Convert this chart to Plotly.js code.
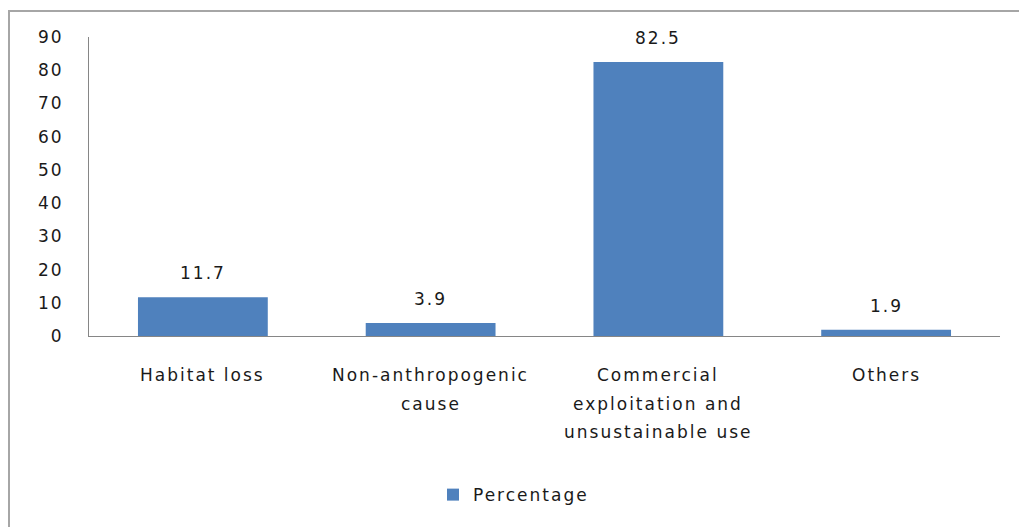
<!DOCTYPE html>
<html>
<head>
<meta charset="utf-8">
<script src="https://cdn.plot.ly/plotly-3.0.1.min.js"></script>
<style>
html,body{margin:0;padding:0;background:#fff;}
#chart{width:1019px;height:527px;}
.main-svg text{letter-spacing:2px;}
.legend, .legend *{clip-path:none !important;}
</style>
</head>
<body>
<div id="chart"></div>
<script>
const categories = ["Habitat loss", "Non-anthropogenic cause", "Commercial exploitation and unsustainable use", "Others"];
const labelLines = [["Habitat loss"], ["Non-anthropogenic", "cause"], ["Commercial", "exploitation and", "unsustainable use"], ["Others"]];
const values = [11.7, 3.9, 82.5, 1.9];
const seriesName = "Percentage";
const yTicks = [0, 10, 20, 30, 40, 50, 60, 70, 80, 90];

const fontFam = "DejaVu Sans, Verdana, sans-serif";
const textColor = "#1a1a1a";

const annotations = [];
categories.forEach((c, i) => {
  annotations.push({
    x: c, y: values[i], xref: "x", yref: "y",
    text: values[i].toFixed(1), showarrow: false,
    yanchor: "middle", yshift: 24,
    font: {family: fontFam, size: 17, color: textColor}
  });
  labelLines[i].forEach((line, j) => {
    annotations.push({
      x: c, y: 0, xref: "x", yref: "paper",
      text: line, showarrow: false,
      yanchor: "middle", yshift: -39 - j * 28.5,
      font: {family: fontFam, size: 17, color: textColor}
    });
  });
});

const trace = {
  type: "bar",
  x: categories,
  y: values,
  name: seriesName,
  marker: {color: "#4F81BD"},
  showlegend: true,
  hoverinfo: "skip"
};

const layout = {
  width: 1019, height: 527,
  margin: {l: 89, r: 19, t: 37, b: 191},
  paper_bgcolor: "#fff", plot_bgcolor: "#fff",
  bargap: 0.43,
  showlegend: true,
  font: {family: fontFam, size: 17, color: textColor},
  xaxis: {
    type: "category",
    showticklabels: false,
    showline: true, linecolor: "#868686", linewidth: 1,
    showgrid: false, zeroline: false, ticks: ""
  },
  yaxis: {
    range: [0, 90],
    tickvals: yTicks,
    ticktext: yTicks.map(String),
    showline: true, linecolor: "#868686", linewidth: 1,
    showgrid: false, zeroline: false,
    ticks: "outside", ticklen: 21, tickcolor: "rgba(0,0,0,0)",
    tickfont: {family: fontFam, size: 17, color: textColor}
  },
  legend: {
    orientation: "h",
    x: 0.455, xanchor: "center",
    y: -0.532, yanchor: "middle",
    font: {family: fontFam, size: 17, color: textColor},
    itemwidth: 30
  },
  annotations: annotations,
  shapes: [{
    type: "rect", xref: "paper", yref: "paper",
    x0: (9 - 89) / 911, x1: 1.06,
    y0: -0.72, y1: (336 - 11) / 299,
    line: {color: "#a6a6a6", width: 2},
    fillcolor: "rgba(0,0,0,0)", layer: "below"
  }]
};

Plotly.newPlot("chart", [trace], layout, {displayModeBar: false, staticPlot: true});
</script>
</body>
</html>
